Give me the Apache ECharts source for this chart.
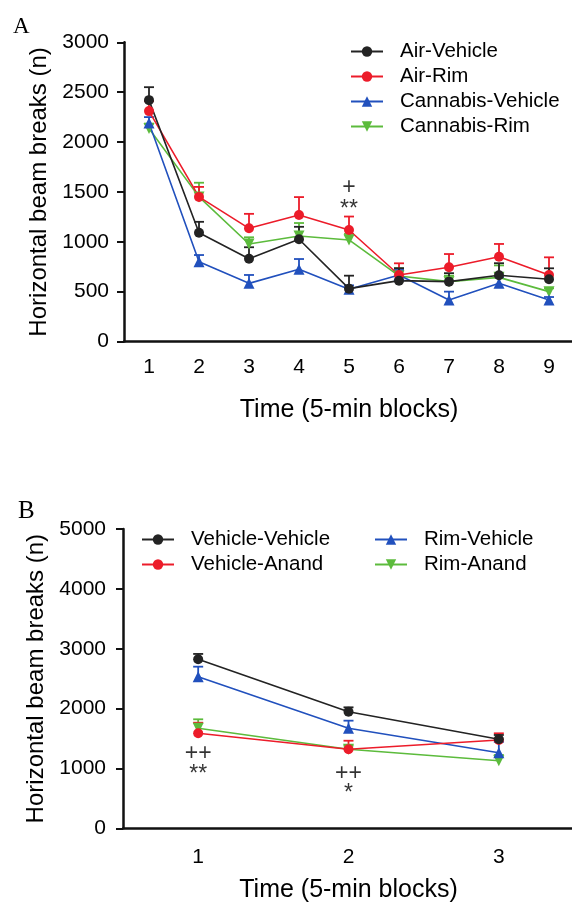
<!DOCTYPE html>
<html>
<head>
<meta charset="utf-8">
<script src="https://cdn.jsdelivr.net/npm/echarts@6/dist/echarts.min.js"></script>
<style>
  html, body { margin: 0; padding: 0; background: #fff; }
  #chart { width: 572px; height: 903px; }
</style>
</head>
<body>
<div id="chart"></div>
<script>
// panel A: 5-min blocks 1..9
var blocksA = ['1', '2', '3', '4', '5', '6', '7', '8', '9']
var airVehicle = [2420, 1090, 830, 1025, 530, 610, 600, 665, 624]
var airVehicleSem = [130, 110, 115, 125, 130, 125, 85, 120, 110]
var airRim = [2310, 1450, 1135, 1268, 1118, 667, 744, 850, 667]
var airRimSem = [100, 100, 145, 180, 135, 117, 133, 128, 177]
var cannabisVehicle = [2190, 800, 583, 724, 523, 667, 416, 583, 416]
var cannabisVehicleSem = [60, 67, 84, 103, 40, 50, 84, 60, 30]
var cannabisRim = [2135, 1450, 978, 1058, 1018, 657, 600, 643, 500]
var cannabisRimSem = [50, 142, 67, 130, 60, 77, 60, 120, 33]
var annotA = [['5', 1546, '+'], ['5', 1369, '**']]

// panel B: 5-min blocks 1..3
var blocksB = ['1', '2', '3']
var vehVeh = [2823, 1948, 1487]
var vehVehSem = [90, 73, 72]
var vehAnand = [1587, 1320, 1475]
var vehAnandSem = [177, 143, 112]
var rimVeh = [2533, 1671, 1263]
var rimVehSem = [167, 127, 180]
var rimAnand = [1671, 1320, 1129]
var rimAnandSem = [150, 60, 96]
var annotB = [['1', 1242, '++'], ['1', 986, '**'], ['2', 919, '++'], ['2', 668, '*']]

var BLACK = '#232323'
var RED = '#ec1c2a'
var BLUE = '#2150bd'
var GREEN = '#5cbb3c'
var FONT = "'Liberation Sans', Arial, sans-serif"

var chart = echarts.init(document.getElementById('chart'))

function lineSeries(name, data, color, down, gi) {
  return {
    name: name,
    type: 'line',
    xAxisIndex: gi,
    yAxisIndex: gi,
    data: data,
    symbol: down === null ? 'circle' : 'triangle',
    symbolSize: down === null ? 10 : 11,
    symbolRotate: down ? 180 : 0,
    lineStyle: { color: color, width: 1.6 },
    itemStyle: { color: color },
    animation: false,
    z: 3
  }
}

// upper SEM bars only, like the figure
function errSeries(mean, sem, color, gi) {
  return {
    type: 'custom',
    xAxisIndex: gi,
    yAxisIndex: gi,
    data: mean.map(function (m, i) { return [i, m, m + sem[i]] }),
    itemStyle: { color: color },
    renderItem: function (params, api) {
      var p0 = api.coord([api.value(0), api.value(1)])
      var p1 = api.coord([api.value(0), api.value(2)])
      var st = { stroke: color, lineWidth: 1.8 }
      return {
        type: 'group',
        children: [
          { type: 'line', shape: { x1: p0[0], y1: p0[1], x2: p1[0], y2: p1[1] }, style: st },
          { type: 'line', shape: { x1: p1[0] - 5, y1: p1[1], x2: p1[0] + 5, y2: p1[1] }, style: st }
        ]
      }
    },
    silent: true,
    animation: false,
    z: 2
  }
}

// significance marks; asterisks sit high in the font, so nudge them down
function annotSeries(rows, gi) {
  return {
    type: 'scatter',
    xAxisIndex: gi,
    yAxisIndex: gi,
    data: rows.map(function (r) {
      return {
        value: [r[0], r[1]],
        text: r[2],
        label: { offset: [0, r[2].charAt(0) === '*' ? 5 : 0] }
      }
    }),
    symbolSize: 1,
    itemStyle: { color: 'rgba(0,0,0,0)' },
    label: {
      show: true,
      position: 'inside',
      formatter: function (p) { return p.data.text },
      color: '#000',
      fontSize: 23,
      fontFamily: FONT
    },
    silent: true,
    animation: false
  }
}

function xAxis(gi, cats, labelMargin, nameGap) {
  return {
    type: 'category',
    gridIndex: gi,
    data: cats,
    boundaryGap: true,
    name: 'Time (5-min blocks)',
    nameLocation: 'middle',
    nameGap: nameGap,
    nameTextStyle: { color: '#000', fontSize: 25, fontFamily: FONT },
    axisLine: { lineStyle: { color: '#111', width: 2.5 } },
    axisTick: { alignWithLabel: true, length: 8, lineStyle: { color: '#111', width: 2 } },
    axisLabel: { color: '#000', fontSize: 21, fontFamily: FONT, margin: labelMargin },
    splitLine: { show: false }
  }
}

function yAxis(gi, max, interval, labelMargin) {
  return {
    type: 'value',
    gridIndex: gi,
    min: 0,
    max: max,
    interval: interval,
    name: 'Horizontal beam breaks (n)',
    nameLocation: 'middle',
    nameGap: 62,
    nameTextStyle: { color: '#000', fontSize: 24, fontFamily: FONT },
    axisLine: { show: true, lineStyle: { color: '#111', width: 2.5 } },
    axisTick: { show: true, length: 7, lineStyle: { color: '#111', width: 2 } },
    axisLabel: {
      color: '#000', fontSize: 21, fontFamily: FONT, margin: labelMargin,
      formatter: function (v) { return String(v) }
    },
    splitLine: { show: false }
  }
}

var legendText = { color: '#000', fontSize: 20.5, fontFamily: FONT, padding: [0, 0, 0, 12] }

chart.setOption({
  backgroundColor: '#fff',
  title: [
    { text: 'A', left: 13, top: 15, padding: 0, textStyle: { fontFamily: "'Liberation Serif', serif", fontSize: 23, fontWeight: 'normal', color: '#000' } },
    { text: 'B', left: 18, top: 499, padding: 0, textStyle: { fontFamily: "'Liberation Serif', serif", fontSize: 25, fontWeight: 'normal', color: '#000' } }
  ],
  legend: [
    {
      data: ['Air-Vehicle', 'Air-Rim', 'Cannabis-Vehicle', 'Cannabis-Rim'],
      orient: 'vertical', left: 350, top: 41, padding: 0,
      itemWidth: 32, itemHeight: 13, itemGap: 4,
      textStyle: legendText
    },
    {
      data: ['Vehicle-Vehicle', 'Vehicle-Anand'],
      orient: 'vertical', left: 141, top: 529, padding: 0,
      itemWidth: 32, itemHeight: 13, itemGap: 4,
      textStyle: legendText
    },
    {
      data: ['Rim-Vehicle', 'Rim-Anand'],
      orient: 'vertical', left: 374, top: 529, padding: 0,
      itemWidth: 32, itemHeight: 13, itemGap: 4,
      textStyle: legendText
    }
  ],
  grid: [
    { left: 124, top: 42.3, width: 450, height: 299.2, outerBoundsMode: 'none' },
    { left: 123, top: 529, width: 451, height: 299.3, outerBoundsMode: 'none' }
  ],
  xAxis: [xAxis(0, blocksA, 15, 56), xAxis(1, blocksB, 18, 49)],
  yAxis: [yAxis(0, 3000, 500, 15), yAxis(1, 5000, 1000, 17)],
  series: [
    lineSeries('Cannabis-Rim', cannabisRim, GREEN, true, 0),
    lineSeries('Cannabis-Vehicle', cannabisVehicle, BLUE, false, 0),
    lineSeries('Air-Rim', airRim, RED, null, 0),
    lineSeries('Air-Vehicle', airVehicle, BLACK, null, 0),
    errSeries(cannabisRim, cannabisRimSem, GREEN, 0),
    errSeries(cannabisVehicle, cannabisVehicleSem, BLUE, 0),
    errSeries(airRim, airRimSem, RED, 0),
    errSeries(airVehicle, airVehicleSem, BLACK, 0),
    annotSeries(annotA, 0),

    lineSeries('Rim-Anand', rimAnand, GREEN, true, 1),
    lineSeries('Rim-Vehicle', rimVeh, BLUE, false, 1),
    lineSeries('Vehicle-Anand', vehAnand, RED, null, 1),
    lineSeries('Vehicle-Vehicle', vehVeh, BLACK, null, 1),
    errSeries(rimAnand, rimAnandSem, GREEN, 1),
    errSeries(rimVeh, rimVehSem, BLUE, 1),
    errSeries(vehAnand, vehAnandSem, RED, 1),
    errSeries(vehVeh, vehVehSem, BLACK, 1),
    annotSeries(annotB, 1)
  ]
})
</script>
</body>
</html>
